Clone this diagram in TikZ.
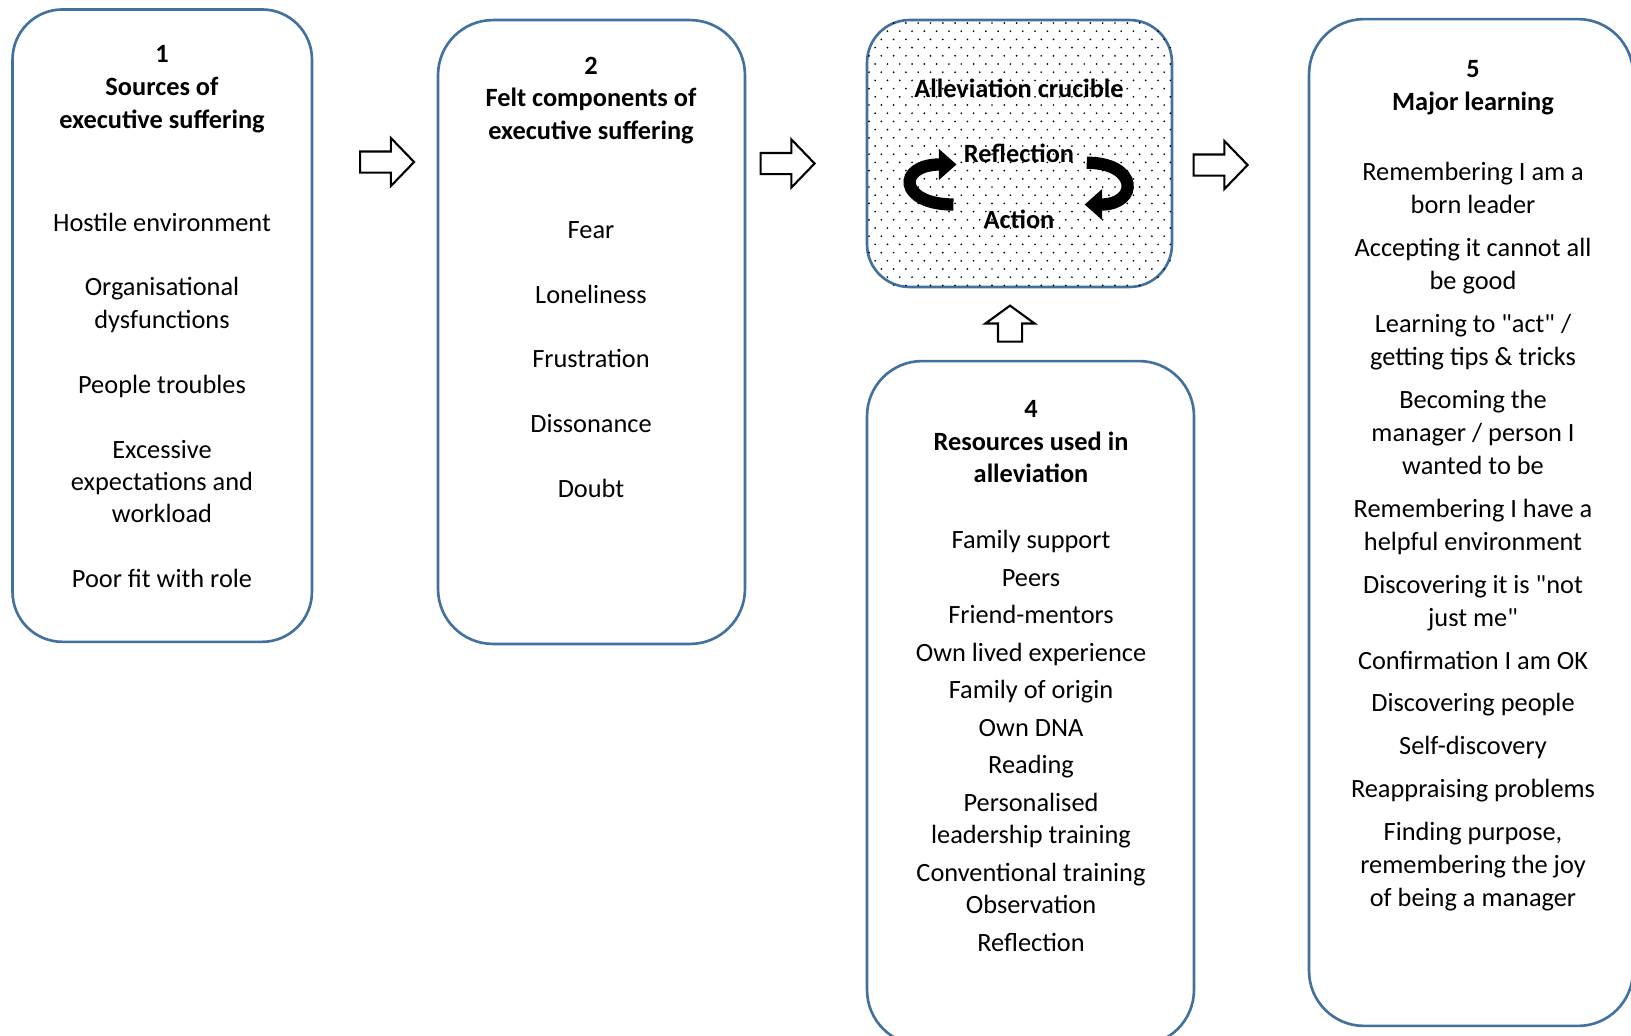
\documentclass[tikz,border=0pt]{standalone}
\usepackage{fontspec}
\setmainfont{Carlito}
\usepackage{xcolor}
\usetikzlibrary{arrows.meta, positioning, shapes.arrows, calc}
\definecolor{panelblue}{RGB}{65,113,156}

\begin{document}
\begin{tikzpicture}[x=0.02cm, y=-0.02cm,
    panel/.style={draw=panelblue, line width=1.5pt, rounded corners=1.1cm, fill=white},
    heading/.style={align=center, anchor=north, inner sep=0pt, font=\fontsize{15}{18.6}\selectfont\bfseries},
    items/.style={align=center, anchor=north, inner sep=0pt, font=\fontsize{15}{18.45}\selectfont},
    cruxword/.style={inner sep=1pt, font=\fontsize{15}{18.6}\selectfont\bfseries},
    blockarrow/.style={single arrow, draw=black, line width=1.2pt, fill=white, inner xsep=0pt,
      inner ysep=0.19cm, single arrow head extend=0.27cm, single arrow tip angle=92, minimum height=1.08cm},
    cyclearrow/.style={line width=7pt, -{Triangle[length=10pt, width=17pt]}},
    speck/.style={fill=black}
]
\useasboundingbox (0,0) rectangle (1631,1035);

% panels
\node[panel, rounded corners=1.0cm, minimum width=5.99cm, minimum height=12.65cm] (src) at (162.25,325.65) {};
\node[panel, minimum width=6.14cm, minimum height=12.48cm] (felt) at (591.5,332) {};
\node[panel, rounded corners=0.85cm, minimum width=6.1cm, minimum height=5.34cm] (crux) at (1019.5,153.5) {};
\node[panel, minimum width=6.54cm, minimum height=13.68cm] (res) at (1030.5,703) {};
\node[panel, minimum width=6.48cm, minimum height=20.14cm] (learn) at (1471,522.5) {};

% dotted ground of the crucible
\begin{scope}
\clip[rounded corners=0.85cm] (crux.south west) rectangle (crux.north east);
\foreach \r [evaluate=\r as \off using {mod(\r,2)*6.15}] in {0,...,33}
  \foreach \c in {0,...,25}
    \fill[speck] (869+\off+\c*12.3, 23+\r*8.2) circle (0.55pt);
\end{scope}

% 1
\node[heading] (src-h) at (162,45.5) {1\\Sources of\\executive suffering};
\node[items] (src-t) at (162,212.5) {Hostile environment\\[\baselineskip]Organisational\\dysfunctions\\[\baselineskip]People troubles\\[\baselineskip]Excessive\\expectations and\\workload\\[\baselineskip]Poor fit with role};

% 2
\node[heading] (felt-h) at (591,56.5) {2\\Felt components of\\executive suffering};
\node[items] (felt-t) at (591,221) {Fear\\[\baselineskip]Loneliness\\[\baselineskip]Frustration\\[\baselineskip]Dissonance\\[\baselineskip]Doubt};

% crucible
\node[cruxword] (crux-t) at (1019,88) {Alleviation crucible};
\node[cruxword] (refl) at (1019,153) {Reflection};
\node[cruxword] (act) at (1019,219.5) {Action};
\draw[cyclearrow] ([xshift=6pt,yshift=1pt]refl.south east) .. controls +(52,0) and +(54,0) .. ([xshift=16pt,yshift=2pt]act.north east);
\draw[cyclearrow] ([xshift=-16pt,yshift=2pt]act.north west) .. controls +(-55,0) and +(-60,0) .. ([xshift=-3pt]refl.south west);

% 4
\node[heading] (res-h) at (1031,400) {4\\Resources used in\\alleviation};
\node[items] (res-t) at (1031,530) {Family support\\[2.9pt]Peers\\[2.9pt]Friend-mentors\\[2.9pt]Own lived experience\\[2.9pt]Family of origin\\[2.9pt]Own DNA\\[2.9pt]Reading\\[2.9pt]Personalised\\leadership training\\[2.9pt]Conventional training\\Observation\\[2.9pt]Reflection};

% 5
\node[heading] (learn-h) at (1473,60.5) {5\\Major learning};
\node[items, font=\fontsize{15}{18.8}\selectfont] (learn-t) at (1473,162) {Remembering I am a\\born leader\\[5.6pt]Accepting it cannot all\\be good\\[5.6pt]Learning to \textquotedbl act\textquotedbl{} /\\getting tips \& tricks\\[5.6pt]Becoming the\\manager / person I\\wanted to be\\[5.6pt]Remembering I have a\\helpful environment\\[5.6pt]Discovering it is \textquotedbl not\\just me\textquotedbl\\[5.6pt]Confirmation I am OK\\[5.6pt]Discovering people\\[5.6pt]Self-discovery\\[5.6pt]Reappraising problems\\[5.6pt]Finding purpose,\\remembering the joy\\of being a manager};

% block arrows
\node[blockarrow] (arr-12) at (382,162) {};
\node[blockarrow] (arr-2c) at (782.5,163.5) {};
\node[blockarrow] (arr-c5) at (1215.5,165) {};
\node[blockarrow, rotate=90, inner ysep=0.22cm, single arrow head extend=0.25cm, minimum height=0.72cm, single arrow tip angle=108] (arr-4c) at (1010,328) {};
\end{tikzpicture}
\end{document}
